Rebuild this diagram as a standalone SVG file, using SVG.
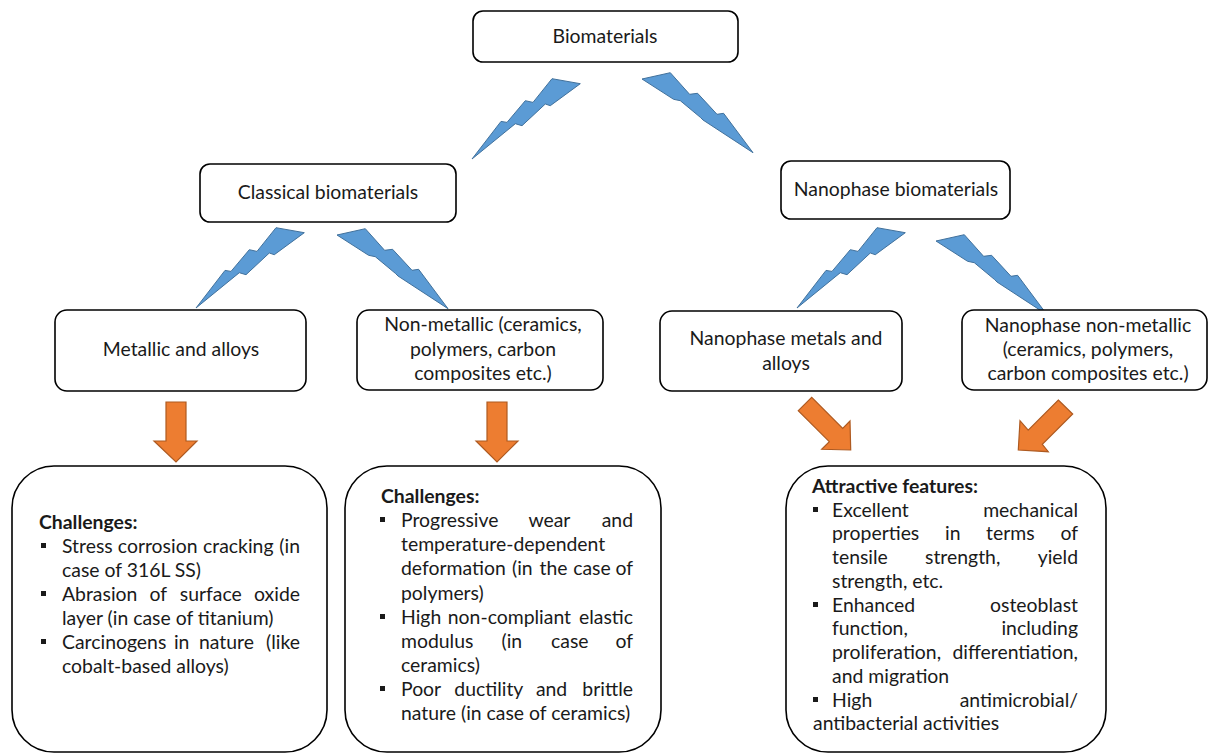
<svg xmlns="http://www.w3.org/2000/svg" xmlns:xlink="http://www.w3.org/1999/xlink" width="1211" height="755" viewBox="0 0 1211 755">
<style>
.box{fill:#fff;stroke:#000;stroke-width:1.6}
.t{font-family:Lato,"Open Sans","Liberation Sans",sans-serif;font-size:19.4px;fill:#1a1a1a}
.c{text-anchor:middle}
.b{font-weight:bold}
.bolt{fill:#5B9BD5;stroke:#41719C;stroke-width:1}
.arr{fill:#ED7D31;stroke:#AE5A21;stroke-width:1.2}
.bul{fill:#1a1a1a}
</style>
<defs>
<path id="boltL" d="M0,0 L29,-37.6 L35,-36.6 L53.3,-58.3 L61,-56.6 L80,-80.3 L108.3,-75.3 L78.3,-53.3 L73.3,-55 L50,-33.3 L43.3,-35.3 Z"/>
<path id="boltR" d="M0,0 L28.3,-6.3 L47.6,15.3 L55.6,14.3 L75,35.3 L81.6,34.3 L111,73.7 L61,41 L58.3,38.3 L38.3,21.7 L31.6,20.3 Z"/>
</defs>
<rect width="1211" height="755" fill="#fff"/>

<g id="connectors">
<use href="#boltL" class="bolt" x="472" y="159"/>
<use href="#boltR" class="bolt" x="642" y="79"/>
<use href="#boltL" class="bolt" x="196" y="308"/>
<use href="#boltR" class="bolt" x="337" y="235"/>
<use href="#boltL" class="bolt" x="797" y="308"/>
<use href="#boltR" class="bolt" x="936" y="241"/>
<path class="arr" d="M166,402 L186,402 L186,441 L197,441 L176,462 L154,441 L166,441 Z"/>
<path class="arr" d="M487,402 L507,402 L507,441 L518,441 L497,462 L476,441 L487,441 Z"/>
<path class="arr" d="M798.3,410.7 L811.7,397.3 L842.7,428.3 L850,421 L850.7,450 L821.7,449.3 L829.3,441.7 Z"/>
<path class="arr" d="M1058.3,400 L1072.7,414 L1042.3,444.3 L1048.3,451.7 L1018.3,450 L1020,420.7 L1028.2,430.2 Z"/>
</g>

<g id="biomaterials">
<rect class="box" x="473" y="11" width="265" height="51" rx="10"/>
<text class="t c" x="605" y="43">Biomaterials</text>
</g>
<g id="classical">
<rect class="box" x="200" y="164" width="256" height="58" rx="10"/>
<text class="t c" x="328" y="199">Classical biomaterials</text>
</g>
<g id="nanophase">
<rect class="box" x="781" y="161" width="229" height="58" rx="10"/>
<text class="t c" x="896" y="196">Nanophase biomaterials</text>
</g>
<g id="metallic">
<rect class="box" x="55" y="310" width="251" height="81" rx="12"/>
<text class="t c" x="181" y="356">Metallic and alloys</text>
</g>
<g id="nonmetallic">
<rect class="box" x="357" y="310" width="246" height="80" rx="12"/>
<text class="t c" x="483" y="331">Non-metallic (ceramics,</text>
<text class="t c" x="483" y="356">polymers, carbon</text>
<text class="t c" x="483" y="380">composites etc.)</text>
</g>
<g id="nano-metals">
<rect class="box" x="660" y="311" width="242" height="80" rx="12"/>
<text class="t c" x="786" y="345">Nanophase metals and</text>
<text class="t c" x="786" y="370">alloys</text>
</g>
<g id="nano-nonmetallic">
<rect class="box" x="962" y="310" width="245" height="80" rx="12"/>
<text class="t c" x="1088" y="332">Nanophase non-metallic</text>
<text class="t c" x="1088" y="356">(ceramics, polymers,</text>
<text class="t c" x="1088" y="380">carbon composites etc.)</text>
</g>

<g id="metallic-challenges">
<rect class="box" x="12" y="466" width="315" height="286" rx="42"/>
<text class="t b" x="39" y="529">Challenges:</text>
<rect class="bul" x="41" y="543" width="5" height="5"/>
<rect class="bul" x="41" y="591" width="5" height="5"/>
<rect class="bul" x="41" y="639" width="5" height="5"/>
<text class="t" y="553"><tspan x="62">Stress</tspan><tspan x="117.8">corrosion</tspan><tspan x="203">cracking</tspan><tspan x="300" text-anchor="end">(in</tspan></text>
<text class="t" x="62" y="577">case of 316L SS)</text>
<text class="t" y="601"><tspan x="62">Abrasion</tspan><tspan x="149.6">of</tspan><tspan x="179.8">surface</tspan><tspan x="300" text-anchor="end">oxide</tspan></text>
<text class="t" x="62" y="625">layer (in case of titanium)</text>
<text class="t" y="649"><tspan x="62">Carcinogens</tspan><tspan x="173.9">in</tspan><tspan x="198.9">nature</tspan><tspan x="300" text-anchor="end">(like</tspan></text>
<text class="t" x="62" y="673">cobalt-based alloys)</text>
</g>

<g id="nonmetallic-challenges">
<rect class="box" x="345" y="466" width="316" height="286" rx="42"/>
<text class="t b" x="381" y="503">Challenges:</text>
<rect class="bul" x="380" y="517" width="5" height="5"/>
<rect class="bul" x="380" y="614" width="5" height="5"/>
<rect class="bul" x="380" y="686" width="5" height="5"/>
<text class="t" y="527"><tspan x="401">Progressive</tspan><tspan x="528.4">wear</tspan><tspan x="633" text-anchor="end">and</tspan></text>
<text class="t" x="401" y="551">temperature-dependent</text>
<text class="t" y="575"><tspan x="401">deformation</tspan><tspan x="512">(in</tspan><tspan x="539.5">the</tspan><tspan x="573.2">case</tspan><tspan x="633" text-anchor="end">of</tspan></text>
<text class="t" x="401" y="600">polymers)</text>
<text class="t" y="624"><tspan x="401">High</tspan><tspan x="447.8">non-compliant</tspan><tspan x="633" text-anchor="end">elastic</tspan></text>
<text class="t" y="648"><tspan x="401">modulus</tspan><tspan x="501.5">(in</tspan><tspan x="551">case</tspan><tspan x="633" text-anchor="end">of</tspan></text>
<text class="t" x="401" y="672">ceramics)</text>
<text class="t" y="696"><tspan x="401">Poor</tspan><tspan x="454.3">ductility</tspan><tspan x="535.9">and</tspan><tspan x="633" text-anchor="end">brittle</tspan></text>
<text class="t" x="401" y="720">nature (in case of ceramics)</text>
</g>

<g id="nanophase-features">
<rect class="box" x="786" y="466" width="320" height="286" rx="42"/>
<text class="t b" x="812" y="493">Attractive features:</text>
<rect class="bul" x="813" y="507" width="5" height="5"/>
<rect class="bul" x="813" y="602" width="5" height="5"/>
<rect class="bul" x="813" y="697" width="5" height="5"/>
<text class="t" y="517"><tspan x="832">Excellent</tspan><tspan x="1078" text-anchor="end">mechanical</tspan></text>
<text class="t" y="540"><tspan x="832">properties</tspan><tspan x="945">in</tspan><tspan x="986">terms</tspan><tspan x="1078" text-anchor="end">of</tspan></text>
<text class="t" y="564"><tspan x="832">tensile</tspan><tspan x="925">strength,</tspan><tspan x="1078" text-anchor="end">yield</tspan></text>
<text class="t" x="832" y="588">strength, etc.</text>
<text class="t" y="612"><tspan x="832">Enhanced</tspan><tspan x="1078" text-anchor="end">osteoblast</tspan></text>
<text class="t" y="635"><tspan x="832">function,</tspan><tspan x="1078" text-anchor="end">including</tspan></text>
<text class="t" y="659"><tspan x="832">proliferation,</tspan><tspan x="1078" text-anchor="end">differentiation,</tspan></text>
<text class="t" x="832" y="683">and migration</text>
<text class="t" y="707"><tspan x="832">High</tspan><tspan x="1078" text-anchor="end">antimicrobial/</tspan></text>
<text class="t" x="813" y="730">antibacterial activities</text>
</g>
</svg>
